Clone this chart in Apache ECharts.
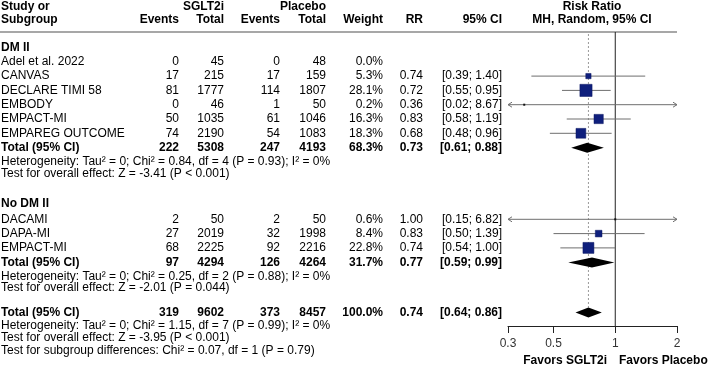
<!DOCTYPE html>
<html>
<head>
<meta charset="utf-8">
<script src="https://cdn.jsdelivr.net/npm/echarts@6/dist/echarts.min.js"></script>
<style>
html, body { margin: 0; padding: 0; background: #fff; }
#forest_chart { width: 708px; height: 370px; }
</style>
</head>
<body>
<div id="forest_chart"></div>
<script>
// study rows, DM II first then No DM II
var studyNames = ['Adel et al. 2022', 'CANVAS', 'DECLARE TIMI 58', 'EMBODY', 'EMPACT-MI', 'EMPAREG OUTCOME', 'DACAMI', 'DAPA-MI', 'EMPACT-MI']
var studyGroup = [0, 0, 0, 0, 0, 0, 1, 1, 1]
var sgltEvents = [0, 17, 81, 0, 50, 74, 2, 27, 68]
var sgltTotal = [45, 215, 1777, 46, 1035, 2190, 50, 2019, 2225]
var placEvents = [0, 17, 114, 1, 61, 54, 2, 32, 92]
var placTotal = [48, 159, 1807, 50, 1046, 1083, 50, 1998, 2216]
var weights = [0.0, 5.3, 28.1, 0.2, 16.3, 18.3, 0.6, 8.4, 22.8]
var rr = [null, 0.74, 0.72, 0.36, 0.83, 0.68, 1.00, 0.83, 0.74]
var ciLow = [null, 0.39, 0.55, 0.02, 0.58, 0.48, 0.15, 0.50, 0.54]
var ciHigh = [null, 1.40, 0.95, 8.67, 1.19, 0.96, 6.82, 1.39, 1.00]

// subgroups (DM II, No DM II) and overall
var groupNames = ['DM II', 'No DM II']
var totSgltEvents = [222, 97, 319]
var totSgltTotal = [5308, 4294, 9602]
var totPlacEvents = [247, 126, 373]
var totPlacTotal = [4193, 4264, 8457]
var totWeight = [68.3, 31.7, 100.0]
var totRR = [0.73, 0.77, 0.74]
var totLow = [0.61, 0.59, 0.64]
var totHigh = [0.88, 0.99, 0.86]
var hetTau2 = ['0', '0', '0']
var hetChi2 = ['0.84', '0.25', '1.15']
var hetDf = ['4', '2', '7']
var hetP = ['= 0.93', '= 0.88', '= 0.99']
var hetI2 = ['0%', '0%', '0%']
var effectZ = ['-3.41', '-2.01', '-3.95']
var effectP = ['< 0.001', '= 0.044', '< 0.001']
var diffChi2 = '0.07'
var diffDf = '1'
var diffP = '0.79'

var xTicks = [0.3, 0.5, 1, 2]
var X_MIN = 0.3
var X_MAX = 2

// layout
var FONT = '12px "Liberation Sans", Arial, sans-serif'
var BOLD = 'bold ' + FONT
var colRight = [179, 224, 280, 326, 383, 423, 502]
var Y_MAX = 294

var rows = []
var cursor = 0
function addRow(kind, idx, step) {
    cursor += step
    rows.push({kind: kind, idx: idx, y: cursor})
}
for (var g = 0; g < 2; g++) {
    addRow('heading', g, g === 0 ? 15.5 : 30)
    var first = true
    for (var i = 0; i < studyNames.length; i++) {
        if (studyGroup[i] !== g) continue
        addRow('study', i, first ? (g === 0 ? 14.3 : 16) : 14.3)
        first = false
    }
    addRow('total', g, 14.5)
    addRow('het', g, 14)
    addRow('test', g, 11.5)
}
addRow('total', 2, 24.5)
addRow('het', 2, 13.5)
addRow('test', 2, 11.5)
addRow('diff', 0, 13)

function rowY(kind, idx) {
    for (var k = 0; k < rows.length; k++) {
        if (rows[k].kind === kind && rows[k].idx === idx) return rows[k].y
    }
}

function fmt2(v) { return v == null ? '' : v.toFixed(2) }
function ciText(lo, hi) { return lo == null ? '' : '[' + fmt2(lo) + '; ' + fmt2(hi) + ']' }

function renderTableRow(params, api) {
    var row = rows[params.dataIndex]
    var py = api.coord([1, row.y])[1]
    var children = []
    function txt(str, x, align, bold) {
        children.push({
            type: 'text', x: x, y: py,
            style: {text: str, align: align, verticalAlign: 'middle', font: bold ? BOLD : FONT, fill: '#000'}
        })
    }
    var i = row.idx
    if (row.kind === 'heading') {
        txt(groupNames[i], 1, 'left', true)
    } else if (row.kind === 'study') {
        txt(studyNames[i], 1, 'left', false)
        txt(String(sgltEvents[i]), colRight[0], 'right', false)
        txt(String(sgltTotal[i]), colRight[1], 'right', false)
        txt(String(placEvents[i]), colRight[2], 'right', false)
        txt(String(placTotal[i]), colRight[3], 'right', false)
        txt(weights[i].toFixed(1) + '%', colRight[4], 'right', false)
        txt(fmt2(rr[i]), colRight[5], 'right', false)
        txt(ciText(ciLow[i], ciHigh[i]), colRight[6], 'right', false)
    } else if (row.kind === 'total') {
        txt('Total (95% CI)', 1, 'left', true)
        txt(String(totSgltEvents[i]), colRight[0], 'right', true)
        txt(String(totSgltTotal[i]), colRight[1], 'right', true)
        txt(String(totPlacEvents[i]), colRight[2], 'right', true)
        txt(String(totPlacTotal[i]), colRight[3], 'right', true)
        txt(totWeight[i].toFixed(1) + '%', colRight[4], 'right', true)
        txt(fmt2(totRR[i]), colRight[5], 'right', true)
        txt(ciText(totLow[i], totHigh[i]), colRight[6], 'right', true)
    } else if (row.kind === 'het') {
        txt('Heterogeneity: Tau\u00b2 = ' + hetTau2[i] + '; Chi\u00b2 = ' + hetChi2[i] + ', df = ' + hetDf[i] +
            ' (P ' + hetP[i] + '); I\u00b2 = ' + hetI2[i], 1, 'left', false)
    } else if (row.kind === 'test') {
        txt('Test for overall effect: Z = ' + effectZ[i] + ' (P ' + effectP[i] + ')', 1, 'left', false)
    } else if (row.kind === 'diff') {
        txt('Test for subgroup differences: Chi\u00b2 = ' + diffChi2 + ', df = ' + diffDf + ' (P = ' + diffP + ')', 1, 'left', false)
    }
    return {type: 'group', children: children}
}

function clampX(v) { return Math.min(X_MAX, Math.max(X_MIN, v)) }

function renderStudy(params, api) {
    var est = api.value(0), lo = api.value(1), hi = api.value(2), yy = api.value(3), w = api.value(4)
    var p = api.coord([est, yy])
    var xl = api.coord([clampX(lo), yy])[0]
    var xr = api.coord([clampX(hi), yy])[0]
    var lineStyle = {stroke: '#6e6e6e', lineWidth: 1, fill: null}
    var children = [{type: 'line', shape: {x1: xl, y1: p[1], x2: xr, y2: p[1]}, style: lineStyle}]
    if (lo < X_MIN) {
        children.push({type: 'polyline', shape: {points: [[xl + 4, p[1] - 2.5], [xl, p[1]], [xl + 4, p[1] + 2.5]]}, style: lineStyle})
    }
    if (hi > X_MAX) {
        children.push({type: 'polyline', shape: {points: [[xr - 4, p[1] - 2.5], [xr, p[1]], [xr - 4, p[1] + 2.5]]}, style: lineStyle})
    }
    var s = Math.max(2, 2.3 * Math.sqrt(w))
    children.push({
        type: 'rect',
        shape: {x: p[0] - s / 2, y: p[1] - s / 2, width: s, height: s},
        style: {fill: w < 1 ? '#111' : '#0f1f7c', stroke: w < 1 ? null : '#0a1660', lineWidth: 0.5}
    })
    return {type: 'group', children: children}
}

function renderDiamond(params, api) {
    var est = api.value(0), lo = api.value(1), hi = api.value(2), yy = api.value(3)
    var c = api.coord([est, yy])
    var xl = api.coord([lo, yy])[0]
    var xr = api.coord([hi, yy])[0]
    var h = 5
    return {
        type: 'polygon',
        shape: {points: [[xl, c[1]], [c[0], c[1] - h], [xr, c[1]], [c[0], c[1] + h]]},
        style: {fill: '#000'}
    }
}

function renderRefLine(params, api) {
    var a = api.coord([api.value(0), api.value(1)])
    var b = api.coord([api.value(0), api.value(2)])
    var dotted = api.value(3) === 1
    return {
        type: 'line',
        shape: {x1: a[0], y1: a[1], x2: b[0], y2: b[1]},
        style: dotted ? {stroke: '#9a9a9a', lineWidth: 1, lineDash: [2, 2]} : {stroke: '#222', lineWidth: 1}
    }
}

var studyData = []
for (var i = 0; i < studyNames.length; i++) {
    if (rr[i] == null) continue
    studyData.push([rr[i], ciLow[i], ciHigh[i], rowY('study', i), weights[i]])
}
var diamondData = []
for (var k = 0; k < totRR.length; k++) {
    diamondData.push([totRR[k], totLow[k], totHigh[k], rowY('total', k)])
}
var overallY = rowY('total', 2)
var refData = [
    [1, 0, Y_MAX, 0],
    [totRR[2], 2, overallY - 5, 1]
]

var chart = echarts.init(document.getElementById('forest_chart'))
var option = {
    animation: false,
    grid: {left: 508, right: 31, top: 32, bottom: 44},
    xAxis: {
        type: 'log',
        logBase: 10,
        min: X_MIN,
        max: X_MAX,
        position: 'bottom',
        axisLine: {show: true, onZero: false, lineStyle: {color: '#222', width: 1}},
        axisTick: {show: true, customValues: xTicks, length: 7, lineStyle: {color: '#222'}},
        axisLabel: {
            customValues: xTicks,
            margin: 12,
            color: '#333',
            fontSize: 12,
            fontFamily: '"Liberation Sans", Arial, sans-serif',
            formatter: function (v) { return String(Math.round(v * 10) / 10) }
        },
        splitLine: {show: false},
        minorTick: {show: false}
    },
    yAxis: {
        type: 'value',
        inverse: true,
        min: 0,
        max: Y_MAX,
        show: false
    },
    graphic: [
        {type: 'line', shape: {x1: 0, y1: 32, x2: 677, y2: 32}, style: {stroke: '#8a8a8a', lineWidth: 1.5}},
        {type: 'text', x: 1, y: 7, style: {text: 'Study or', font: BOLD, verticalAlign: 'middle', fill: '#000'}},
        {type: 'text', x: 1, y: 20, style: {text: 'Subgroup', font: BOLD, verticalAlign: 'middle', fill: '#000'}},
        {type: 'text', x: colRight[1], y: 7, style: {text: 'SGLT2i', font: BOLD, align: 'right', verticalAlign: 'middle', fill: '#000'}},
        {type: 'text', x: colRight[3], y: 7, style: {text: 'Placebo', font: BOLD, align: 'right', verticalAlign: 'middle', fill: '#000'}},
        {type: 'text', x: colRight[0], y: 20, style: {text: 'Events', font: BOLD, align: 'right', verticalAlign: 'middle', fill: '#000'}},
        {type: 'text', x: colRight[1], y: 20, style: {text: 'Total', font: BOLD, align: 'right', verticalAlign: 'middle', fill: '#000'}},
        {type: 'text', x: colRight[2], y: 20, style: {text: 'Events', font: BOLD, align: 'right', verticalAlign: 'middle', fill: '#000'}},
        {type: 'text', x: colRight[3], y: 20, style: {text: 'Total', font: BOLD, align: 'right', verticalAlign: 'middle', fill: '#000'}},
        {type: 'text', x: colRight[4], y: 20, style: {text: 'Weight', font: BOLD, align: 'right', verticalAlign: 'middle', fill: '#000'}},
        {type: 'text', x: colRight[5], y: 20, style: {text: 'RR', font: BOLD, align: 'right', verticalAlign: 'middle', fill: '#000'}},
        {type: 'text', x: colRight[6], y: 20, style: {text: '95% CI', font: BOLD, align: 'right', verticalAlign: 'middle', fill: '#000'}},
        {type: 'text', x: 592, y: 7, style: {text: 'Risk Ratio', font: BOLD, align: 'center', verticalAlign: 'middle', fill: '#000'}},
        {type: 'text', x: 592, y: 20, style: {text: 'MH, Random, 95% CI', font: BOLD, align: 'center', verticalAlign: 'middle', fill: '#000'}},
        {type: 'text', x: 607, y: 361, style: {text: 'Favors SGLT2i', font: BOLD, align: 'right', verticalAlign: 'middle', fill: '#000'}},
        {type: 'text', x: 619, y: 361, style: {text: 'Favors Placebo', font: BOLD, align: 'left', verticalAlign: 'middle', fill: '#000'}}
    ],
    series: [
        {
            type: 'custom',
            name: 'refLines',
            renderItem: renderRefLine,
            data: refData,
            encode: {x: 0, y: 1},
            silent: true,
            z: 1
        },
        {
            type: 'custom',
            name: 'studies',
            renderItem: renderStudy,
            data: studyData,
            encode: {x: 0, y: 3},
            clip: false,
            z: 3
        },
        {
            type: 'custom',
            name: 'totals',
            renderItem: renderDiamond,
            data: diamondData,
            encode: {x: 0, y: 3},
            z: 3
        },
        {
            type: 'custom',
            name: 'table',
            renderItem: renderTableRow,
            data: rows.map(function (r) { return [1, r.y] }),
            encode: {x: 0, y: 1},
            clip: false,
            silent: true,
            z: 4
        }
    ]
}
chart.setOption(option)
</script>
</body>
</html>
